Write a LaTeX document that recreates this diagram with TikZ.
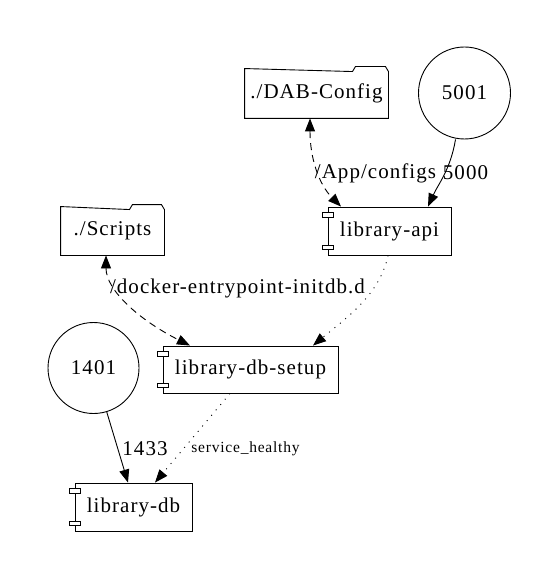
\documentclass[tikz,border=0pt]{standalone}
\usepackage{fontspec}
\setmainfont{Liberation Serif}[LetterSpace=5]
\usetikzlibrary{arrows.meta}
\tikzset{
  base/.style={inner sep=0pt, font=\fontsize{21}{25}\selectfont},
  port/.style={base, circle, draw, minimum size=#1},
  boxnode/.style={base, rectangle, draw, minimum width=#1},
  foldernode/.style={base, rectangle, minimum width=#1},
  lbl/.style={font=\fontsize{21}{25}\selectfont, inner sep=0pt},
  smalllbl/.style={font=\fontsize{15.5}{18}\selectfont, inner sep=0pt},
  conn/.style={line width=0.9pt, -{Triangle[length=13pt,width=10pt]}},
  biconn/.style={line width=0.9pt, {Triangle[length=13pt,width=10pt]}-{Triangle[length=13pt,width=10pt]}},
  dashline/.style={dash pattern=on 7pt off 5pt},
  dotline/.style={dash pattern=on 1pt off 6pt},
  compbox/.style={draw, fill=white, line width=0.9pt},
}
\newcommand{\complugs}[1]{%
  \draw[compbox] ([xshift=-5pt,yshift=-6pt]#1.north west) rectangle ++(11pt,-4.5pt);
  \draw[compbox] ([xshift=-5pt,yshift=6pt]#1.south west) rectangle ++(11pt,4.5pt);
}
\newcommand{\folderoutline}[2]{% node, tab width
  \draw[line width=0.9pt] (#1.south west) -- (#1.south east) -- ([yshift=-3pt]#1.north east)
    -- ++(-3pt,5pt) -- ++(-#2+6pt,0) -- ++(-3pt,-5pt) -- (#1.north west) -- cycle;
}
\begin{document}
\begin{tikzpicture}[x=1pt,y=-1pt, line width=0.9pt]
\useasboundingbox (0,0) rectangle (559,580);
% nodes
\node[foldernode=143pt, minimum height=49pt] (dab) at (316.5,93.5) {./DAB-Config};
\folderoutline{dab}{36pt}
\node[port=92pt] (p5001) at (464.5,93) {5001};
\node[boxnode=123pt, minimum height=48pt] (api) at (389.5,231) {library-api};
\complugs{api}
\node[foldernode=103pt, minimum height=48pt] (scripts) at (112.5,231) {./Scripts};
\folderoutline{scripts}{35pt}
\node[boxnode=175pt, minimum height=47pt] (setup) at (250.5,369.5) {library-db-setup};
\complugs{setup}
\node[port=91pt] (p1401) at (93.5,368) {1401};
\node[boxnode=117pt, minimum height=48pt] (db) at (133.5,507) {library-db};
\complugs{db}
% connectors
\draw[biconn, dashline] ([xshift=-6.5pt]dab.south) .. controls ++(0,40) and ++(-22,-22) .. ([xshift=-48.5pt]api.north);
\draw[conn] ([xshift=-9pt]p5001.south) .. controls ++(-5,30) and ++(10,-22) .. ([xshift=38.5pt]api.north);
\node[lbl] (lapp) at (375.5,173) {/App/configs};
\node[lbl] (l5000) at (465.5,173) {5000};
\draw[conn, dotline] ([xshift=-1.5pt]api.south) .. controls ++(-8,40) and ++(30,-25) .. ([xshift=62.5pt]setup.north);
\draw[biconn, dashline] ([xshift=-6.5pt]scripts.south) .. controls ++(0,35) and ++(-50,-25) .. ([xshift=-60.5pt]setup.north);
\node[lbl] (ldock) at (237.5,288) {/docker-entrypoint-initdb.d};
\draw[conn] (p1401) -- ([xshift=-5.5pt]db.north);
\node[lbl] (l1433) at (145,449) {1433};
\draw[conn, dotline] ([xshift=-20.5pt]setup.south) -- ([xshift=21.5pt]db.north);
\node[smalllbl] (lsh) at (245.5,449) {service\_healthy};
\end{tikzpicture}
\end{document}
